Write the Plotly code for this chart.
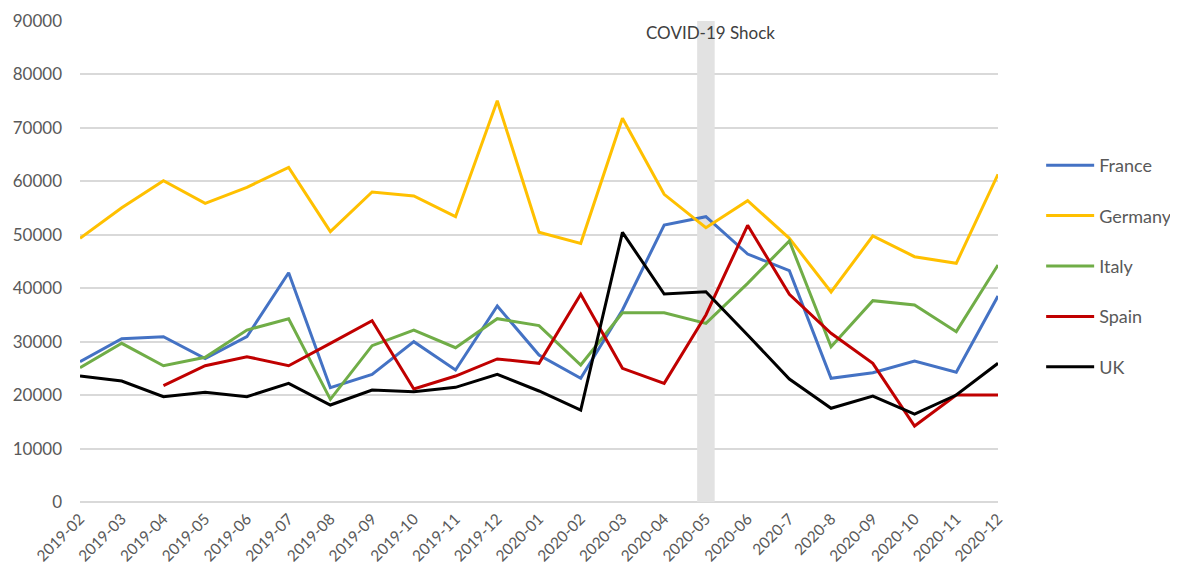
import plotly.graph_objects as go

months = ["2019-02", "2019-03", "2019-04", "2019-05", "2019-06", "2019-07", "2019-08",
          "2019-09", "2019-10", "2019-11", "2019-12", "2020-01", "2020-02", "2020-03",
          "2020-04", "2020-05", "2020-06", "2020-7", "2020-8", "2020-09", "2020-10",
          "2020-11", "2020-12"]

france = [26250, 30560, 30930, 26820, 30930, 42900, 21390, 23890, 30000, 24700, 36670,
          27500, 23140, 35920, 51830, 53380, 46400, 43280, 23140, 24200, 26380, 24270, 38540]
germany = [49340, 55070, 60120, 55880, 58880, 62620, 50580, 58000, 57250, 53380, 75080,
           50460, 48400, 71790, 57570, 51320, 56380, 49340, 39290, 49770, 45900, 44660, 61310]
italy = [25130, 29690, 25500, 27070, 32180, 34300, 19210, 29250, 32180, 28870, 34300,
         33000, 25630, 35420, 35420, 33430, 40920, 48830, 29060, 37670, 36860, 31870, 44340]
spain = [None, None, 21760, 25500, 27190, 25500, 29690, 33930, 21140, 23570, 26760,
         25950, 38860, 25010, 22200, 34990, 51770, 38860, 31560, 25950, 14220, 20020, 20020]
uk = [23570, 22640, 19710, 20520, 19710, 22200, 18150, 20960, 20650, 21450, 23890,
      20770, 17210, 50460, 38920, 39350, 31250, 23010, 17530, 19830, 16460, 20020, 25950]

series = [("France", france, "#4472C4"),
          ("Germany", germany, "#FFC000"),
          ("Italy", italy, "#70AD47"),
          ("Spain", spain, "#C00000"),
          ("UK", uk, "#000000")]

shock_month = "2020-05"
shock_label = "COVID-19 Shock"

fig = go.Figure()
for name, vals, color in series:
    fig.add_trace(go.Scatter(x=months, y=vals, name=name, mode="lines",
                             line=dict(color=color, width=3),
                             legendgroup=name))

idx = months.index(shock_month)
fig.add_shape(type="rect", xref="x", yref="y", x0=idx - 0.21, x1=idx + 0.21,
              y0=0, y1=90000, fillcolor="#E2E2E2", line=dict(width=0), layer="between")
fig.add_annotation(x=idx, xref="x", y=87900, yref="y", yanchor="middle", text=shock_label,
                   showarrow=False, xshift=5, font=dict(size=17, color="#404040"))

fig.update_layout(
    width=1178, height=574,
    margin=dict(l=72, r=188, t=13, b=80, autoexpand=False),
    plot_bgcolor="white", paper_bgcolor="white",
    font=dict(family="Lato", color="#595959"),
    legend=dict(x=1.047, y=0.738, xanchor="left", yanchor="top",
                font=dict(size=18, color="#595959"), itemwidth=48,
                traceorder="grouped", tracegroupgap=24),
)
fig.update_xaxes(type="category", range=[0, len(months) - 1], tickangle=-45,
                 tickfont=dict(size=15.5, color="#595959"), showgrid=False,
                 showline=False, ticks="", automargin=False, ticklabelstandoff=4)
fig.update_yaxes(range=[0, 90000], dtick=10000, tickformat="d",
                 tickfont=dict(size=17, color="#595959"), gridcolor="#D9D9D9",
                 gridwidth=1.5, zeroline=True, zerolinecolor="#D9D9D9", zerolinewidth=1.5,
                 ticks="", ticklen=0, automargin=False, ticklabelstandoff=17)

fig.write_html("out.html")
